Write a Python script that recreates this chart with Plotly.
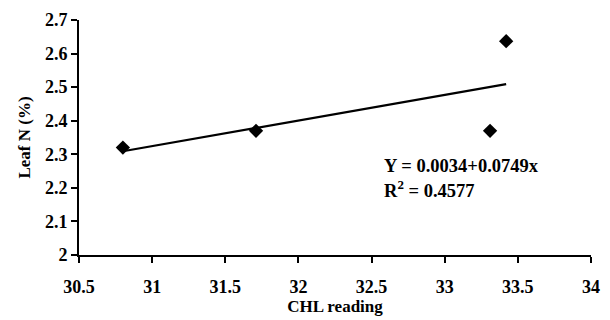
import numpy as np
import plotly.graph_objects as go

chl = [30.8, 31.71, 33.31, 33.42]
leaf_n = [2.32, 2.37, 2.37, 2.637]
x_ticks = [30.5, 31, 31.5, 32, 32.5, 33, 33.5, 34]
y_ticks = [2, 2.1, 2.2, 2.3, 2.4, 2.5, 2.6, 2.7]
eq_text = "Y = 0.0034+0.0749x"
r2_text = "R<sup>2</sup> = 0.4577"

slope, intercept = np.polyfit(chl, leaf_n, 1)
fit_x = [min(chl), max(chl)]
fit_y = [intercept + slope * v for v in fit_x]

font_family = "Liberation Serif"

fig = go.Figure()
fig.add_trace(go.Scatter(x=fit_x, y=fit_y, mode="lines",
                         line=dict(color="black", width=2.2), showlegend=False))
fig.add_trace(go.Scatter(x=chl, y=leaf_n, mode="markers",
                         marker=dict(symbol="diamond", size=11, color="black"),
                         showlegend=False))

fig.add_annotation(x=32.57, y=2.264, text="<b>" + eq_text + "</b>", showarrow=False,
                   xanchor="left", yanchor="middle",
                   font=dict(family=font_family, size=18.5, color="black"))
fig.add_annotation(x=32.57, y=2.198, text="<b>" + r2_text + "</b>", showarrow=False,
                   xanchor="left", yanchor="middle",
                   font=dict(family=font_family, size=18.5, color="black"))

axis_common = dict(showline=True, linecolor="black", linewidth=2, ticks="outside",
                   ticklen=6, tickwidth=2, tickcolor="black", showgrid=False,
                   zeroline=False, mirror=False, automargin=False,
                   tickfont=dict(family=font_family, size=18, color="black"))

fig.update_xaxes(range=[30.5, 34], tickvals=x_ticks,
                 ticktext=["<b>%g</b>" % v for v in x_ticks],
                 title=dict(text="<b>CHL reading</b>", standoff=2,
                            font=dict(family=font_family, size=17, color="black")),
                 ticklabelstandoff=8,
                 **axis_common)
fig.update_yaxes(range=[2, 2.7], tickvals=y_ticks,
                 ticktext=["<b>%g</b>" % v for v in y_ticks],
                 title=dict(text="<b>Leaf N (%)</b>", standoff=10,
                            font=dict(family=font_family, size=17, color="black")),
                 **axis_common)

# page body has an 8px margin, so the figure is sized to fit inside the window
fig.update_layout(width=602, height=312, plot_bgcolor="white", paper_bgcolor="white",
                  margin=dict(l=71, r=19, t=12, b=65))

fig.write_html("out.html")
